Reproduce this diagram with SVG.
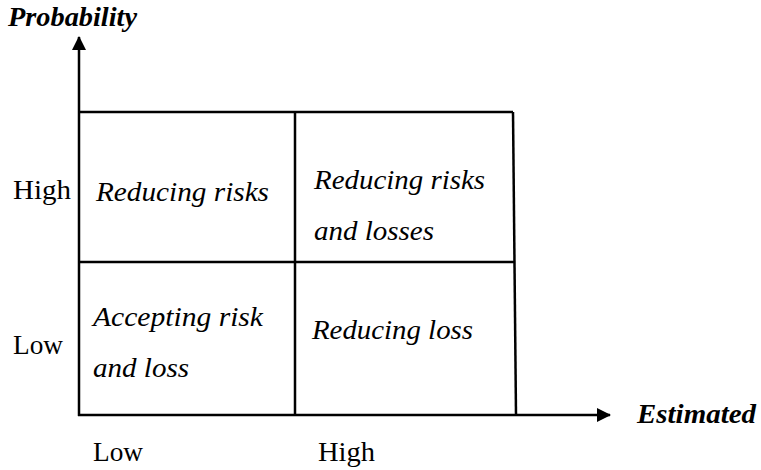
<svg xmlns="http://www.w3.org/2000/svg" width="761" height="470" viewBox="0 0 761 470">
  <style>
    .ln { stroke: #000; stroke-width: 2.5; fill: none; }
    .lbl { font-family: "Liberation Serif", "Times New Roman", serif; font-size: 28px; fill: #000; }
    .it { font-style: italic; }
    .ax { font-style: italic; font-weight: bold; }
  </style>
  <defs>
    <marker id="arrow" viewBox="0 0 14 14" refX="13" refY="7" markerWidth="14" markerHeight="14" markerUnits="userSpaceOnUse" orient="auto">
      <path d="M0,0 L14,7 L0,14 Z" fill="#000"/>
    </marker>
  </defs>
  <rect width="761" height="470" fill="#fff"/>

  <!-- axes and grid lines -->
  <g id="connectors">
    <line class="ln" x1="79" y1="416" x2="79" y2="37" marker-end="url(#arrow)"/>
    <line class="ln" x1="78" y1="415" x2="610" y2="415" marker-end="url(#arrow)"/>
    <line class="ln" x1="79" y1="112" x2="513" y2="112"/>
    <line class="ln" x1="513" y1="112" x2="516" y2="415"/>
    <line class="ln" x1="79" y1="262" x2="514.5" y2="262"/>
    <line class="ln" x1="295" y1="112" x2="295" y2="415"/>
  </g>

  <g id="axis-probability">
    <text class="lbl ax" x="8" y="26" textLength="129" lengthAdjust="spacingAndGlyphs">Probability</text>
  </g>
  <g id="axis-estimated">
    <text class="lbl ax" x="637" y="423" textLength="119" lengthAdjust="spacingAndGlyphs">Estimated</text>
  </g>
  <g id="tick-high-y"><text class="lbl" x="13" y="199" textLength="58" lengthAdjust="spacingAndGlyphs">High</text></g>
  <g id="tick-low-y"><text class="lbl" x="13" y="354" textLength="50" lengthAdjust="spacingAndGlyphs">Low</text></g>
  <g id="tick-low-x"><text class="lbl" x="93" y="461" textLength="50" lengthAdjust="spacingAndGlyphs">Low</text></g>
  <g id="tick-high-x"><text class="lbl" x="318" y="461" textLength="57" lengthAdjust="spacingAndGlyphs">High</text></g>

  <g id="cell-reducing-risks">
    <text class="lbl it" x="96" y="201" textLength="173" lengthAdjust="spacingAndGlyphs">Reducing risks</text>
  </g>
  <g id="cell-reducing-risks-losses">
    <text class="lbl it" x="314" y="189" textLength="171" lengthAdjust="spacingAndGlyphs">Reducing risks</text>
    <text class="lbl it" x="314" y="240" textLength="120" lengthAdjust="spacingAndGlyphs">and losses</text>
  </g>
  <g id="cell-accepting">
    <text class="lbl it" x="93" y="326" textLength="170" lengthAdjust="spacingAndGlyphs">Accepting risk</text>
    <text class="lbl it" x="93" y="377" textLength="96" lengthAdjust="spacingAndGlyphs">and loss</text>
  </g>
  <g id="cell-reducing-loss">
    <text class="lbl it" x="312" y="339" textLength="161" lengthAdjust="spacingAndGlyphs">Reducing loss</text>
  </g>
</svg>
